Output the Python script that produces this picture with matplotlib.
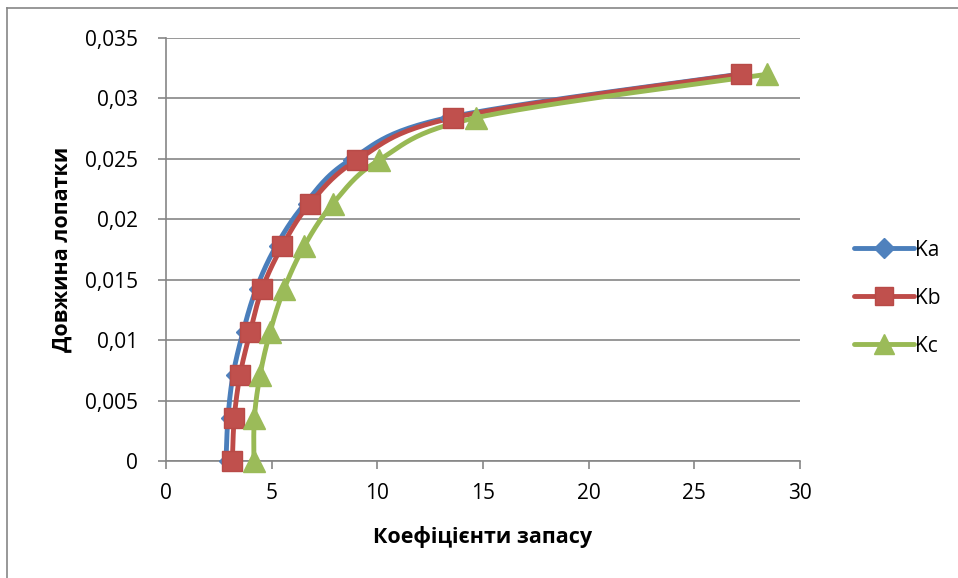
import matplotlib
matplotlib.use('Agg')

import numpy as np
import matplotlib.pyplot as plt
from matplotlib.lines import Line2D

# blade length levels and the safety factors for each variant
length = [0.0, 0.00355, 0.0071, 0.01065, 0.0142, 0.01775, 0.0213, 0.0249, 0.0284, 0.032]
ka = [2.84, 2.93, 3.17, 3.64, 4.26, 5.20, 6.58, 8.71, 13.30, 27.10]
kb = [3.14, 3.23, 3.50, 3.98, 4.54, 5.49, 6.81, 9.04, 13.58, 27.21]
kc = [4.16, 4.18, 4.45, 4.92, 5.58, 6.53, 7.90, 10.08, 14.67, 28.44]

labels = ["Ka", "Kb", "Kc"]
xticks = [0, 5, 10, 15, 20, 25, 30]
yticks = [0, 0.005, 0.01, 0.015, 0.02, 0.025, 0.03, 0.035]

XMAX, YMAX = 30, 0.035

plt.rcParams['font.family'] = ['Open Sans', 'DejaVu Sans']


def smooth(x, y, n=30):
    # Catmull-Rom style bezier through the points, computed in screen-like units
    sx, sy = 634.0 / XMAX, 423.0 / YMAX
    p = np.column_stack([np.asarray(x) * sx, np.asarray(y) * sy])
    p = np.vstack([p[0], p, p[-1]])
    out = []
    t = np.linspace(0, 1, n)[:, None]
    for i in range(1, len(p) - 2):
        p0, p1, p2, p3 = p[i - 1], p[i], p[i + 1], p[i + 2]
        c1 = p1 + (p2 - p0) / 6.0
        c2 = p2 - (p3 - p1) / 6.0
        seg = ((1 - t) ** 3) * p1 + 3 * ((1 - t) ** 2) * t * c1 + 3 * (1 - t) * t ** 2 * c2 + t ** 3 * p2
        out.append(seg)
    out = np.vstack(out)
    return out[:, 0] / sx, out[:, 1] / sy


fig = plt.figure(figsize=(9.58, 5.78), dpi=100)
ax = fig.add_axes([166 / 958, 1 - 461 / 578, 634 / 958, 423 / 578])

styles = [
    dict(color='#4A7EBB', marker='D', ms=7, mfc='#4F81BD', mec='#4F81BD'),
    dict(color='#BE4B48', marker='s', ms=14, mfc='#C0504D', mec='#B84A47'),
    dict(color='#98B954', marker='^', ms=16, mfc='#9BBB59', mec='#9BBB59'),
]

handles = []
for xs, st, lab in zip([ka, kb, kc], styles, labels):
    cx, cy = smooth(xs, length)
    ax.plot(cx, cy, color=st['color'], lw=3.5, solid_capstyle='round', zorder=2)
    ax.plot(xs, length, ls='none', marker=st['marker'], ms=st['ms'],
            mfc=st['mfc'], mec=st['mec'], zorder=3, clip_on=False)
    handles.append(Line2D([0], [0], color=st['color'], lw=3.5, solid_capstyle='round',
                          marker=st['marker'], ms=max(st['ms'] * 0.9, 10),
                          mfc=st['mfc'], mec=st['mec']))

ax.set_xlim(0, XMAX)
ax.set_ylim(0, YMAX)
ax.set_xticks(xticks)
ax.set_yticks(yticks)
ax.set_xticklabels([str(v) for v in xticks])
ax.set_yticklabels(["0" if v == 0 else ("%g" % v).replace('.', ',') for v in yticks])
ax.tick_params(axis='both', labelsize=15, color='#868686', length=6, width=1.2,
               labelcolor='black')
ax.tick_params(axis='x', pad=10)
ax.tick_params(axis='y', pad=14)

ax.grid(axis='y', color='#868686', lw=1.2)
ax.set_axisbelow(True)
for s in ['top', 'right']:
    ax.spines[s].set_visible(False)
for s in ['left', 'bottom']:
    ax.spines[s].set_color('#868686')
    ax.spines[s].set_linewidth(1.2)

ax.set_xlabel('Коефіцієнти запасу', fontsize=15.5, fontweight='bold', labelpad=16)
ax.set_ylabel('Довжина лопатки', fontsize=15.5, fontweight='bold', labelpad=9)

ax.legend(handles, labels, loc='center left', bbox_to_anchor=(1.055, 0.385),
          frameon=False, fontsize=15, handlelength=2.9, handletextpad=0.05,
          labelspacing=1.3)

# outer chart frame
fig.add_artist(Line2D([7 / 958, 7 / 958], [0, 1 - 8 / 578], color='#868686', lw=1.2,
                      transform=fig.transFigure))
fig.add_artist(Line2D([7 / 958, 1], [1 - 8 / 578, 1 - 8 / 578], color='#868686', lw=1.2,
                      transform=fig.transFigure))

plt.savefig('out.png', dpi=100)
